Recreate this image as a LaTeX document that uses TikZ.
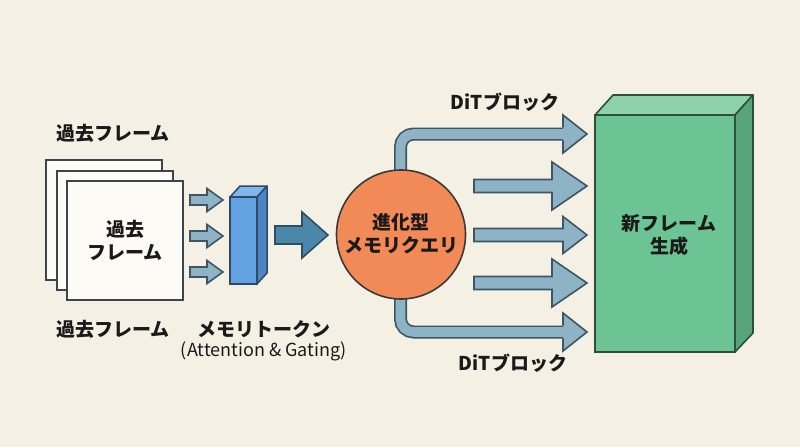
\documentclass[tikz,border=0pt]{standalone}
\usepackage{fontspec}
\setmainfont{Noto Sans CJK JP}
\definecolor{bg}{HTML}{F4F0E3}
\definecolor{arrfill}{HTML}{8DB3C5}
\definecolor{arrline}{HTML}{3E5663}
\definecolor{bigarr}{HTML}{4A87AA}
\definecolor{bigline}{HTML}{2E4F63}
\definecolor{colfront}{HTML}{62A2E3}
\definecolor{colside}{HTML}{4C84C4}
\definecolor{coltop}{HTML}{80B6EC}
\definecolor{colline}{HTML}{2F4A66}
\definecolor{circfill}{HTML}{F28A58}
\definecolor{circline}{HTML}{3A3A3A}
\definecolor{grfront}{HTML}{6CC394}
\definecolor{grside}{HTML}{58A57B}
\definecolor{grtop}{HTML}{8ED2A9}
\definecolor{grline}{HTML}{2E4F40}
\definecolor{frfill}{HTML}{FCFBF6}
\definecolor{frline}{HTML}{3A4550}
\definecolor{txt}{HTML}{1A1A1A}
\tikzset{
  lbl/.style={text=txt,font=\fontsize{19}{23}\selectfont\bfseries,align=center,inner sep=0pt},
  sublbl/.style={text=txt,font=\fontsize{18}{21}\selectfont,align=center,inner sep=0pt},
  arrsty/.style={fill=arrfill,draw=arrline,line width=1.6pt,line join=miter},
  framesty/.style={fill=frfill,draw=frline,line width=1.8pt},
}
\newcommand\fatarr[7][]{%
  \filldraw[arrsty,#1] ({#2},{#5-#6}) -- ({#3},{#5-#6}) -- ({#3},{#5-#7}) -- ({#4},{#5}) -- ({#3},{#5+#7}) -- ({#3},{#5+#6}) -- ({#2},{#5+#6}) -- cycle;}
\begin{document}
\begin{tikzpicture}[x=1pt,y=-1pt]
\useasboundingbox[fill=bg] (0,0) rectangle (800,447);

% stacked frames
\draw[framesty] (46,160) rectangle (162,280);
\draw[framesty] (57,171) rectangle (173,290);
\draw[framesty] (67,181) rectangle (183,300);
\node[lbl] (framein) at (125,240) {過去\\フレーム};
\node[lbl] (frametop) at (113,133) {過去フレーム};
\node[lbl] (framebot) at (113,329) {過去フレーム};

% small arrows
\fatarr{190}{207}{223}{200}{5}{11.5}
\fatarr{190}{207}{223}{236}{5}{11.5}
\fatarr{190}{207}{223}{272}{5}{11.5}

% memory token column
\filldraw[fill=coltop,draw=colline,line width=1.5pt,line join=round] (230,197) -- (240,186) -- (267,186) -- (257,197) -- cycle;
\filldraw[fill=colside,draw=colline,line width=1.5pt,line join=round] (257,197) -- (267,186) -- (267,273) -- (257,284) -- cycle;
\filldraw[fill=colfront,draw=colline,line width=1.5pt] (230,197) rectangle (257,284);
\node[lbl] (toklbl) at (264,329) {メモリトークン};
\node[sublbl] (toksub) at (264,351) {(Attention \& Gating)};

% big arrow
\fatarr[fill=bigarr,draw=bigline]{275}{302}{328}{235}{9}{23}

% curved tubes
\foreach \ya/\yb in {180/134, 290/332}{
  \draw[line width=13pt,color=arrline,rounded corners=13pt] (400.5,\ya) |- (566,\yb);
  \draw[line width=9.6pt,color=arrfill,rounded corners=13pt] (400.5,\ya) |- (566.5,\yb);
  \fill[arrfill] (563,\yb-19) -- (587,\yb) -- (563,\yb+19) -- cycle;
  \draw[arrline,line width=1.6pt,line join=miter] (563,\yb-6.3) -- (563,\yb-19) -- (587,\yb) -- (563,\yb+19) -- (563,\yb+6.3);
}

% straight arrows
\fatarr{474}{552}{587}{186}{6.5}{24}
\fatarr{474}{563}{587}{235}{6.5}{18.5}
\fatarr{474}{552}{587}{283}{6.5}{24}

% memory query circle
\node[circle,fill=circfill,draw=circline,line width=1.6pt,minimum size=129pt,inner sep=0pt] (query) at (401,234.5) {};
\node[lbl] (querylbl) at (401,233.5) {進化型\\メモリクエリ};

\node[lbl] (dittop) at (505,102) {DiTブロック};
\node[lbl] (ditbot) at (513,363) {DiTブロック};

% new frame box
\filldraw[fill=grtop,draw=grline,line width=1.6pt,line join=round] (595,115) -- (613,95) -- (753,95) -- (735,115) -- cycle;
\filldraw[fill=grside,draw=grline,line width=1.6pt,line join=round] (735,115) -- (753,95) -- (753,333) -- (735,352) -- cycle;
\filldraw[fill=grfront,draw=grline,line width=1.6pt] (595,115) rectangle (735,352);
\node[lbl] (newlbl) at (669,235.5) {新フレーム\\生成};
\end{tikzpicture}
\end{document}
